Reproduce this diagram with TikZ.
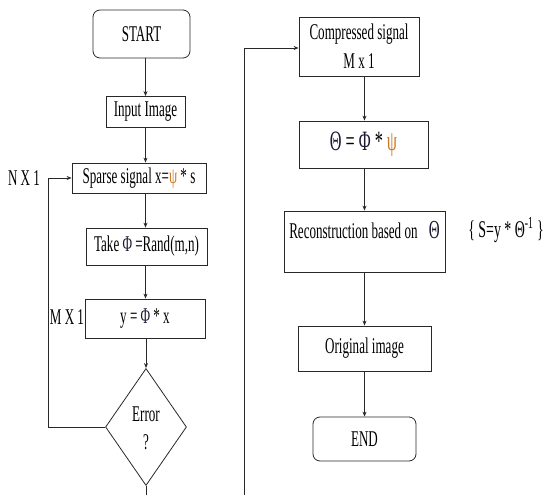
\documentclass[tikz,border=0pt]{standalone}
\usepackage{fontspec}
\setmainfont[FakeStretch=0.58]{Liberation Serif}
\usetikzlibrary{shapes.geometric,arrows.meta}
\definecolor{psicol}{RGB}{200,120,30}
\definecolor{greekcol}{RGB}{25,25,50}
\definecolor{linecol}{RGB}{40,40,40}
\begin{document}
\begin{tikzpicture}[x=1pt,y=-1pt,
  box/.style={draw=linecol, line width=0.8pt, inner sep=0pt, align=center, font=\fontsize{22.5}{29}\selectfont},
  rbox/.style={box, rounded corners=7pt},
  dia/.style={box, diamond, aspect=0.69},
  lbl/.style={inner sep=0pt, font=\fontsize{22.5}{24}\selectfont},
  conn/.style={draw=linecol, line width=0.8pt},
  arr/.style={conn, -{Stealth[length=5pt,width=4pt]}}
]
\useasboundingbox (0,0) rectangle (549,495);
% left column
\node[rbox, minimum width=97pt, minimum height=48pt] (start) at (141.5,34) {START};
\node[box, minimum width=79pt, minimum height=31pt] (input) at (145.5,112) {Input Image};
\node[box, minimum width=134pt, minimum height=30pt] (sparse) at (139,178) {Sparse signal x=\textcolor{psicol}{ψ} * s};
\node[box, minimum width=121pt, minimum height=37pt] (take) at (146.5,246.5) {Take \textcolor{greekcol}{Φ} =Rand(m,n)};
\node[box, minimum width=120pt, minimum height=39pt] (ymul) at (145,318.5) {y = \textcolor{greekcol}{Φ} * x};
\node[dia, minimum width=81pt, minimum height=117pt] (err) at (146,427) {};
\node[lbl] (errtxt) at (146,414) {Error};
\node[lbl] (qtxt) at (146,442) {?};
\node[lbl] (nx1) at (24,178) {N X 1};
\node[lbl] (mx1) at (67,317) {M X 1};
% right column
\node[box, minimum width=120pt, minimum height=59pt] (comp) at (359,46.5) {Compressed signal\\M x 1};
\node[box, minimum width=129pt, minimum height=47pt, font=\fontsize{28}{30}\selectfont] (theta) at (363.5,144.5) {\textcolor{greekcol}{Θ} = \textcolor{greekcol}{Φ} * \textcolor{psicol}{ψ}};
\node[box, minimum width=161pt, minimum height=61pt] (recon) at (364.5,241.5) {};
\node[lbl] (recontxt) at (364.5,230) {Reconstruction based on\enspace{\fontsize{26}{28}\selectfont\textcolor{greekcol}{Θ}}};
\node[lbl, font=\fontsize{24}{26}\selectfont] (sform) at (506,230) {\{ S=y * Θ\textsuperscript{-1} \}};
\node[box, minimum width=133pt, minimum height=45pt] (orig) at (364.5,348.5) {Original image};
\node[rbox, minimum width=103pt, minimum height=44pt] (endn) at (364.5,439) {END};
% helper coordinates
\coordinate (loopA) at (48,427);
\coordinate (loopB) at (48,178);
\coordinate (bot1) at (146,495);
\coordinate (bot2) at (244,495);
\coordinate (top2) at (244,48);
% connectors left
\draw[arr] (start.south -| input.north) -- (input.north);
\draw[arr] (input.south) -- (input.south |- sparse.north);
\draw[arr] (sparse.south -| input.south) -- (input.south |- take.north);
\draw[arr] (take.south -| input.south) -- (input.south |- ymul.north);
\draw[arr] (ymul.south -| err.north) -- (err.north);
\draw[conn] (err.west) -- (loopA) -- (loopB);
\draw[arr] (loopB) -- (sparse.west);
\draw[conn] (err.south) -- (bot1);
% connectors right
\draw[conn] (bot2) -- (top2);
\draw[arr] (top2) -- (comp.west |- top2);
\draw[arr] (comp.south -| recon.north) -- (theta.north -| recon.north);
\draw[arr] (theta.south -| recon.north) -- (recon.north);
\draw[arr] (recon.south) -- (orig.north);
\draw[arr] (orig.south) -- (endn.north);
\end{tikzpicture}
\end{document}
